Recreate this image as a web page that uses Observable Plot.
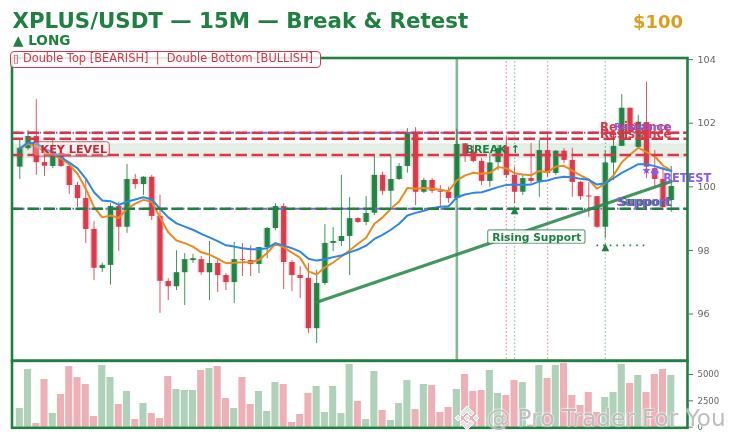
<!DOCTYPE html>
<html>
<head>
<meta charset="utf-8">
<script src="https://cdn.jsdelivr.net/npm/d3@7"></script>
<script src="https://cdn.jsdelivr.net/npm/@observablehq/plot@0.6"></script>
<style>
html,body{margin:0;padding:0;background:#fff;font-family:"DejaVu Sans",sans-serif;}
#wrap{position:relative;width:732px;height:443px;overflow:hidden;filter:blur(0.3px);}
#wrap svg{position:absolute;left:0;overflow:visible;}
.t{position:absolute;white-space:pre;line-height:1;}
</style>
</head>
<body>
<div id="wrap"></div>
<script>
const opens=[100.62,101.20,101.58,100.76,100.64,101.05,100.64,100.04,99.63,98.66,97.43,97.53,99.38,98.73,100.23,100.07,100.30,99.07,97.02,96.86,97.30,97.68,97.71,97.30,97.59,97.21,96.99,97.71,97.68,97.56,98.09,98.69,99.38,97.62,97.21,97.12,95.54,96.96,98.22,98.28,98.44,99.00,98.88,99.17,100.36,99.86,100.23,100.64,101.68,99.83,100.20,99.86,99.83,99.63,101.35,101.09,100.80,100.17,100.76,101.25,100.36,99.83,100.26,100.17,101.14,100.42,101.12,100.83,100.14,99.71,99.69,98.73,100.75,101.27,102.47,101.24,102.02,100.57,100.23,99.57];
const closes=[101.21,101.58,100.76,100.65,101.05,100.64,100.04,99.63,98.66,97.44,97.53,99.38,98.73,100.23,100.07,100.30,99.07,97.03,96.86,97.30,97.71,97.74,97.30,97.59,97.21,96.99,97.71,97.68,97.56,98.09,98.69,99.38,97.62,97.21,97.12,95.54,96.96,98.22,98.28,98.44,99.00,98.88,99.16,100.36,99.86,100.23,100.64,101.68,99.83,100.20,99.86,99.83,99.63,101.33,101.01,100.80,100.17,100.75,101.20,100.36,99.83,100.26,100.17,101.14,100.42,101.12,100.83,100.14,99.69,99.68,98.73,100.75,101.27,102.47,101.71,102.03,100.62,100.23,99.35,100.01];
const highs=[101.46,101.77,102.74,101.05,101.46,101.30,100.64,100.14,100.20,98.91,97.60,99.47,99.51,100.70,100.39,100.32,100.36,99.73,97.11,97.99,97.90,97.87,97.81,98.28,97.74,97.27,98.25,98.22,98.15,98.09,98.72,99.47,99.47,97.68,97.49,97.59,97.38,98.81,98.72,100.36,99.66,99.03,99.69,100.98,100.46,100.98,100.73,101.83,101.86,100.27,100.26,100.04,99.99,101.80,101.36,101.30,100.89,101.05,101.30,101.56,100.62,100.36,101.36,101.46,101.72,101.14,101.20,101.21,100.17,100.14,99.69,101.14,101.77,102.90,102.47,102.24,103.29,101.14,100.62,100.64];
const lows=[100.23,101.14,100.36,100.33,100.57,100.61,99.76,99.35,98.22,97.05,97.31,96.91,97.97,98.54,99.92,99.73,98.94,96.02,96.42,96.74,96.27,97.59,97.22,96.42,96.68,96.74,96.33,97.18,97.18,97.27,97.74,98.62,96.77,96.71,96.49,95.39,95.07,96.90,97.96,98.12,97.21,98.85,98.78,99.10,99.73,99.32,100.20,100.43,99.41,99.79,99.79,99.38,99.48,99.57,100.77,100.76,100.04,99.99,100.51,100.26,99.47,99.73,100.10,99.67,100.30,100.36,100.73,99.67,99.57,99.04,98.69,98.37,100.20,101.27,101.71,101.23,100.26,99.99,99.25,99.20];
const volumes=[1772,5475,348,4526,1298,3100,5760,4716,4050,1013,5855,4716,2152,3386,728,2247,1298,823,4810,3576,3480,3480,5380,5570,5760,2720,1772,4716,2152,3386,1487,4240,4050,443,1200,3197,3860,1392,3860,1298,5950,2437,728,5285,1582,633,2247,4431,1677,4050,3956,1392,1867,3576,5000,3386,3480,5380,3197,3007,4431,4240,200,5855,4620,5855,6045,3007,2057,3290,1392,2817,3290,5950,4146,4906,3290,5000,5475,4906];
const emaFast=[101.21,101.35,101.28,101.10,101.00,100.89,100.70,100.41,99.94,99.36,99.04,99.10,99.02,99.31,99.47,99.59,99.53,99.04,98.57,98.31,98.23,98.12,97.94,97.87,97.74,97.60,97.61,97.63,97.63,97.70,97.92,98.21,98.10,97.93,97.77,97.34,97.24,97.47,97.62,97.81,98.00,98.21,98.40,98.84,99.04,99.31,99.54,99.96,99.94,99.96,99.94,99.91,99.86,100.20,100.36,100.44,100.41,100.44,100.62,100.58,100.43,100.39,100.36,100.50,100.46,100.64,100.66,100.51,100.36,100.23,99.94,100.11,100.36,100.77,101.01,101.23,101.09,100.96,100.67,100.51];
const emaSlow=[101.21,101.39,101.36,101.20,101.08,100.93,100.76,100.58,100.26,99.83,99.57,99.55,99.43,99.53,99.60,99.67,99.60,99.31,99.04,98.85,98.75,98.65,98.52,98.41,98.29,98.16,98.12,98.07,98.04,98.04,98.07,98.23,98.15,98.07,97.96,97.74,97.68,97.72,97.79,97.84,97.94,98.03,98.15,98.36,98.49,98.65,98.84,99.10,99.18,99.25,99.33,99.37,99.39,99.67,99.76,99.81,99.83,99.91,99.99,100.06,100.07,100.06,100.07,100.17,100.20,100.28,100.32,100.30,100.25,100.22,100.07,100.11,100.27,100.44,100.57,100.71,100.71,100.65,100.57,100.50];
const resistanceLevels=[101.70,101.51,101.00];
const supportLevels=[99.31];
const keyZone=[100.91,101.33];
const breakIndex=[53];
const redSignals=[59,64];
const greenSignals=[60,71];
const risingX=[36,79];
const risingY=[96.37,100.17];
const yTicks=[96,98,100,102,104];
const volTicks=[0,2500,5000];

const GREEN="#1f8040",RED="#d93648",PURPLE="#8a5ce6",BLUE="#2f86e6",ORANGE="#e98c20";
const FONT="DejaVu Sans";
const candles=opens.map((o,i)=>({i,o,c:closes[i],h:highs[i],l:lows[i],v:volumes[i],col:closes[i]>=o?GREEN:RED}));
const xDomain=[-0.946,80.97];
const ema=(arr)=>arr.map((v,i)=>({i,v}));

const main=Plot.plot({
  width:732,height:362.3,marginTop:57.5,marginBottom:2,marginLeft:11.5,marginRight:45,
  style:{fontFamily:FONT,background:"transparent",overflow:"visible"},
  x:{domain:xDomain,axis:null},
  y:{domain:[94.53,104.05],axis:null},
  marks:[
    Plot.rect([keyZone],{x1:()=>xDomain[0],x2:()=>xDomain[1],y1:d=>d[0],y2:d=>d[1],fill:"#e5efe8",stroke:"#dbe9df",strokeWidth:1}),
    Plot.ruleX(breakIndex,{x:d=>d,stroke:GREEN,strokeOpacity:0.55,strokeWidth:2.6}),
    Plot.ruleX(redSignals,{x:d=>d,stroke:RED,strokeOpacity:0.5,strokeWidth:1.3,strokeDasharray:"1.5,2.2"}),
    Plot.ruleX(greenSignals,{x:d=>d,stroke:GREEN,strokeOpacity:0.45,strokeWidth:1.3,strokeDasharray:"1.5,2.2"}),
    Plot.ruleX(candles,{x:"i",y1:"l",y2:"h",stroke:"col",strokeWidth:1,strokeOpacity:0.85}),
    Plot.ruleX(candles,{x:"i",y1:"o",y2:"c",stroke:"col",strokeWidth:8,strokeOpacity:0.2}),
    Plot.ruleX(candles,{x:"i",y1:"o",y2:"c",stroke:"col",strokeWidth:5.2,strokeOpacity:0.95}),
    Plot.line(ema(emaFast),{x:"i",y:"v",stroke:ORANGE,strokeWidth:2,curve:"linear"}),
    Plot.line(ema(emaSlow),{x:"i",y:"v",stroke:BLUE,strokeWidth:2,curve:"linear"}),
    Plot.ruleY([resistanceLevels[0]],{y:d=>d,stroke:PURPLE,strokeWidth:2.2,strokeDasharray:"8,3.5,1.5,3.5"}),
    Plot.ruleY(supportLevels,{y:d=>d,stroke:PURPLE,strokeWidth:2.2,strokeDasharray:"8,3.5,1.5,3.5"}),
    Plot.ruleY(resistanceLevels,{y:d=>d,stroke:RED,strokeWidth:2.5,strokeDasharray:"11.5,4.5"}),
    Plot.ruleY(supportLevels,{y:d=>d,stroke:GREEN,strokeWidth:2.5,strokeDasharray:"11.5,4.5"}),
    Plot.line(risingX.map((x,k)=>({x,y:risingY[k]})),{x:"x",y:"y",stroke:"#2f8a50",strokeOpacity:0.9,strokeWidth:3.2}),
    Plot.ruleY([98.16],{x1:70,x2:76,y:d=>d,stroke:GREEN,strokeWidth:1.6,strokeDasharray:"1.6,5"}),
    Plot.text([{i:60,v:99.28},{i:71,v:98.10}],{x:"i",y:"v",text:()=>"▲",fill:GREEN,fontSize:10,lineAnchor:"middle"}),
    Plot.text([{i:76,v:100.51,s:"★"},{i:77,v:100.48,s:"◆"}],{x:"i",y:"v",text:"s",fill:PURPLE,fontSize:11,lineAnchor:"middle"}),
    Plot.rect([{x1:1.7,x2:10.91,y1:100.95,y2:101.4}],{x1:"x1",x2:"x2",y1:"y1",y2:"y2",fill:"#fff",fillOpacity:0.25,stroke:"#c8283c",strokeOpacity:0.8,strokeWidth:1,rx:2.5}),
    Plot.text(["KEY LEVEL"],{x:()=>2.51,y:()=>101.17,text:d=>d,textAnchor:"start",lineAnchor:"middle",fill:"#c8283c",fontWeight:"bold",fontSize:11.2}),
    Plot.text(["BREAK ↑"],{x:()=>54.05,y:()=>101.16,text:d=>d,textAnchor:"start",lineAnchor:"middle",fill:GREEN,fontWeight:"bold",fontSize:11}),
    Plot.rect([{x1:56.8,x2:68.6,y1:98.21,y2:98.63}],{x1:"x1",x2:"x2",y1:"y1",y2:"y2",fill:"#fff",fillOpacity:0.9,stroke:GREEN,strokeOpacity:0.7,strokeWidth:1.2,rx:2}),
    Plot.text(["Rising Support"],{x:()=>62.7,y:()=>98.41,text:d=>d,lineAnchor:"middle",fill:GREEN,fontWeight:"bold",fontSize:10.7}),
    Plot.text(["RETEST"],{x:()=>78.03,y:()=>100.28,text:d=>d,textAnchor:"start",lineAnchor:"middle",fill:PURPLE,fontWeight:"bold",fontSize:11.4}),
    Plot.text(["Resistance"],{x:()=>79.03,y:()=>101.87,text:d=>d,textAnchor:"end",lineAnchor:"middle",fill:RED,fontWeight:"bold",fontSize:11.7}),
    Plot.text(["Resistance"],{x:()=>79.03,y:()=>101.64,text:d=>d,textAnchor:"end",lineAnchor:"middle",fill:RED,fontWeight:"bold",fontSize:11.7}),
    Plot.text(["Resistance"],{x:()=>79.03,y:()=>101.87,text:d=>d,textAnchor:"end",lineAnchor:"middle",fill:PURPLE,fontWeight:"bold",fontSize:9.4}),
    Plot.text(["Support"],{x:()=>79.03,y:()=>99.51,text:d=>d,textAnchor:"end",lineAnchor:"middle",fill:GREEN,fontWeight:"bold",fontSize:11.7}),
    Plot.text(["Support"],{x:()=>78.9,y:()=>99.51,text:d=>d,textAnchor:"end",lineAnchor:"middle",fill:PURPLE,fontWeight:"bold",fontSize:12}),
    Plot.frame({stroke:GREEN,strokeWidth:2.6}),
    Plot.axisY({anchor:"right",ticks:yTicks,tickFormat:d=>String(d),tickSize:5,tickPadding:5,fontSize:9.6,color:"#666",label:null,stroke:"#666"})
  ]
});
main.style.top="0px";

const vol=Plot.plot({
  width:732,height:83,marginTop:0.3,marginBottom:15.7,marginLeft:11.5,marginRight:45,
  style:{fontFamily:FONT,background:"transparent",overflow:"visible"},
  x:{domain:xDomain,axis:null},
  y:{domain:[-60,6300],axis:null},
  marks:[
    Plot.rectY(candles,{x1:d=>d.i-0.43,x2:d=>d.i+0.43,y1:0,y2:"v",fill:d=>d.col===GREEN?"#b0d1b9":"#eeb0b7"}),
    Plot.frame({stroke:GREEN,strokeWidth:2.6}),
    Plot.axisY({anchor:"right",ticks:volTicks,tickFormat:d=>String(d),tickSize:5,tickPadding:5,fontSize:8.5,color:"#666",label:null,stroke:"#666"})
  ]
});
vol.style.top="360px";

const wrap=document.getElementById("wrap");
wrap.append(main,vol);

function addText(str,css){const d=document.createElement("div");d.className="t";d.textContent=str;Object.assign(d.style,css);wrap.append(d);return d;}
addText("XPLUS/USDT — 15M — Break & Retest",{left:"12.5px",top:"10px",fontSize:"21.35px",fontWeight:"bold",color:GREEN});
addText("$100",{left:"633px",top:"12.5px",fontSize:"18px",fontWeight:"bold",color:"#daa01c"});
addText("▲ LONG",{left:"13px",top:"34px",fontSize:"13.6px",fontWeight:"bold",color:GREEN});
addText("▯ Double Top [BEARISH]  |  Double Bottom [BULLISH]",{left:"9.5px",top:"50.5px",width:"307px",height:"13px",padding:"1.2px 0 1px 2.5px",fontSize:"11.4px",color:RED,border:"1.2px solid "+RED,borderRadius:"4px",background:"rgba(255,255,255,.85)",boxSizing:"content-box"});
addText("@ Pro Trader For You",{left:"487px",top:"406px",fontSize:"23.2px",color:"rgba(125,125,125,.5)",textShadow:"0 0 2px #fff,0 0 2px #fff"});
const ns="http://www.w3.org/2000/svg";
const logo=document.createElementNS(ns,"svg");
logo.setAttribute("width","30");logo.setAttribute("height","30");logo.setAttribute("viewBox","-15 -15 30 30");
logo.style.cssText="position:absolute;left:452px;top:403px;overflow:visible";
logo.innerHTML='<g fill="#e4e4e4" stroke="#fff" stroke-width="1"><path d="M0,-12 L7,-5 L4,-2 L0,-6 L-4,-2 L-7,-5Z"/><path d="M0,12 L7,5 L4,2 L0,6 L-4,2 L-7,5Z"/><path d="M-12,0 L-9,-3 L-6,0 L-9,3Z"/><path d="M12,0 L9,-3 L6,0 L9,3Z"/><path d="M0,-3 L3,0 L0,3 L-3,0Z"/></g>';
wrap.append(logo);
</script>
</body>
</html>
